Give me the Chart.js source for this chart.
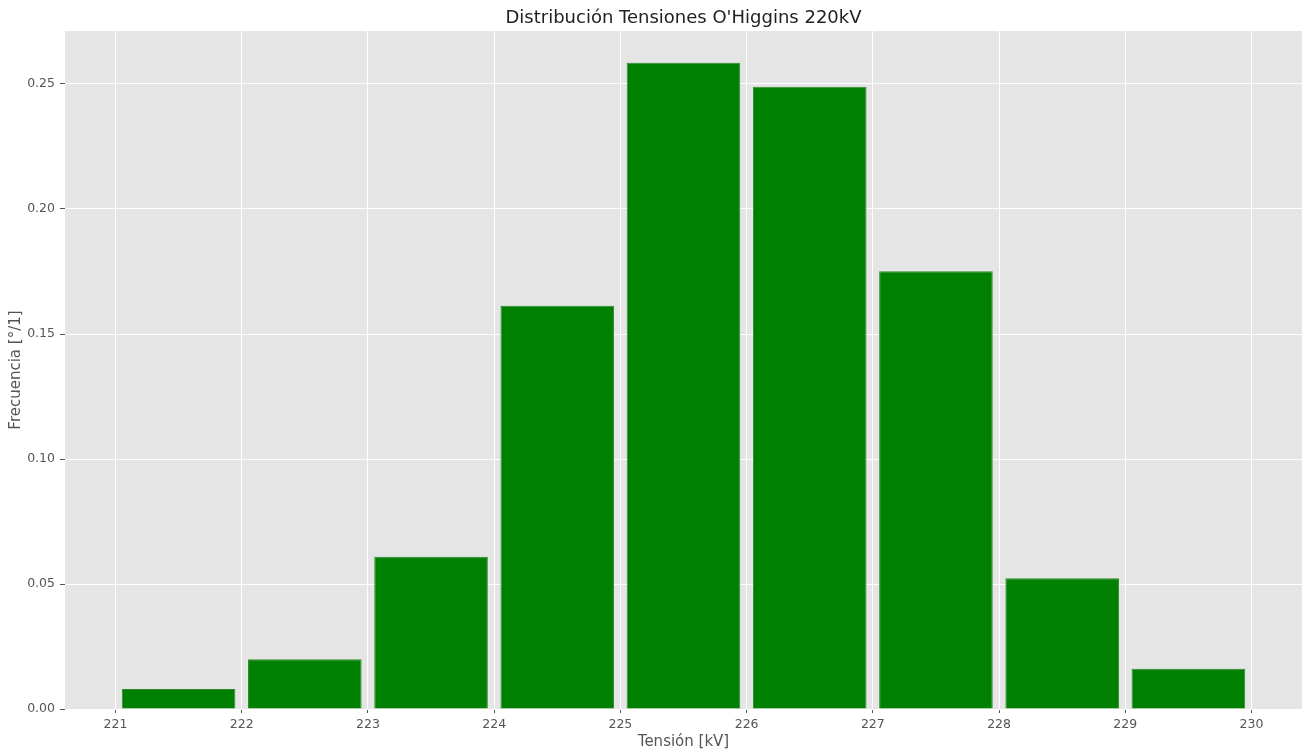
<!DOCTYPE html>
<html>
<head>
<meta charset="utf-8">
<script src="https://cdn.jsdelivr.net/npm/chart.js@4"></script>
<style>
  body { margin: 0; background: #fff; }
  #wrap { width: 1302px; height: 751px; position: relative; }
</style>
</head>
<body>
<div id="wrap"><canvas id="histChart"></canvas></div>
<script>
// Datos del histograma
const binStarts = [221, 222, 223, 224, 225, 226, 227, 228, 229];
const frecuencias = [0.008, 0.0199, 0.0609, 0.1613, 0.2585, 0.2489, 0.1751, 0.0523, 0.0161];
const xTicks = [221, 222, 223, 224, 225, 226, 227, 228, 229, 230];
const yTicks = [0.00, 0.05, 0.10, 0.15, 0.20, 0.25];

const titulo = "Distribución Tensiones O'Higgins 220kV";
const FONT = "'DejaVu Sans', sans-serif";

// fondo gris estilo ggplot + título centrado sobre el área del gráfico
const fondoPlugin = {
    id: 'fondo',
    beforeDraw(chart) {
        const { ctx, chartArea: a } = chart;
        ctx.save();
        ctx.fillStyle = '#E5E5E5';
        ctx.fillRect(a.left, a.top, a.right - a.left, a.bottom - a.top);
        ctx.fillStyle = '#222222';
        ctx.font = '18px ' + FONT;
        ctx.textAlign = 'center';
        ctx.textBaseline = 'middle';
        ctx.fillText(titulo, (a.left + a.right) / 2, 18);
        ctx.restore();
    }
};

const ctx = document.getElementById('histChart').getContext('2d');
new Chart(ctx, {
    type: 'bar',
    data: {
        datasets: [{
            data: binStarts.map((b, i) => ({ x: b + 0.5, y: frecuencias[i] })),
            backgroundColor: '#008000',
            borderColor: '#2b8c2b',
            borderWidth: 1,
            barPercentage: 0.9,
            categoryPercentage: 1.0
        }]
    },
    options: {
        responsive: true,
        maintainAspectRatio: false,
        animation: false,
        layout: { padding: { top: 31, left: 0, right: 0, bottom: 0 } },
        plugins: {
            legend: { display: false },
            title: { display: false },
            tooltip: { enabled: false }
        },
        scales: {
            x: {
                type: 'linear',
                offset: false,
                min: 220.6,
                max: 230.4,
                afterFit(scale) { scale.height = 42; },
                afterBuildTicks(scale) { scale.ticks = xTicks.map(v => ({ value: v })); },
                grid: { offset: false, color: '#FFFFFF', lineWidth: 1, tickColor: '#555555', tickLength: 4 },
                border: { display: false },
                ticks: {
                    color: '#555555',
                    font: { family: FONT, size: 12.5 },
                    padding: 4,
                    callback: v => String(v)
                },
                title: {
                    display: true,
                    text: 'Tensión [kV]',
                    color: '#555555',
                    font: { family: FONT, size: 15 },
                    padding: { top: 0, bottom: 0 }
                }
            },
            y: {
                min: 0,
                max: 0.2712,
                afterFit(scale) { scale.width = 65; },
                afterBuildTicks(scale) { scale.ticks = yTicks.map(v => ({ value: v })); },
                grid: { color: '#FFFFFF', lineWidth: 1, tickColor: '#555555', tickLength: 5 },
                border: { display: false },
                ticks: {
                    color: '#555555',
                    font: { family: FONT, size: 12.5 },
                    padding: 5,
                    callback: v => v.toFixed(2)
                },
                title: {
                    display: true,
                    text: 'Frecuencia [°/1]',
                    color: '#555555',
                    font: { family: FONT, size: 15 },
                    padding: { top: 7, bottom: 0 }
                }
            }
        }
    },
    plugins: [fondoPlugin]
});
</script>
</body>
</html>
